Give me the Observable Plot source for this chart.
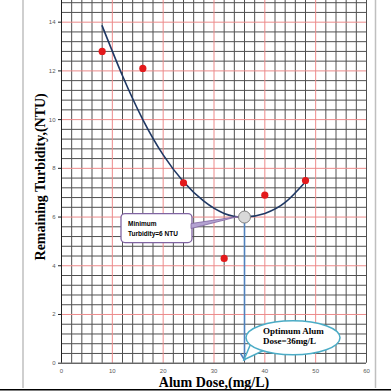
<!DOCTYPE html>
<html><head><meta charset="utf-8">
<script src="https://cdn.jsdelivr.net/npm/d3@7"></script>
<script src="https://cdn.jsdelivr.net/npm/@observablehq/plot@0.6"></script>
<style>body{margin:0;background:#fff}#chart svg{display:block}</style>
</head><body><div id="chart"></div>
<script>
// measured data points
const doses = [8, 16, 24, 32, 40, 48];
const turbidity = [12.8, 12.1, 7.4, 4.3, 6.9, 7.5];
// trend curve
const fitDoses = [8, 12, 16, 20, 24, 28, 32, 36, 40, 44, 48];
const fitTurbidity = [13.85, 11.8, 10.0, 8.55, 7.45, 6.65, 6.15, 6.0, 6.15, 6.6, 7.45];
// optimum
const optimumDose = [36];
const minTurbidity = [6];
// ticks and grid
const xTicks = [0, 10, 20, 30, 40, 50, 60];
const yTicks = [0, 2, 4, 6, 8, 10, 12, 14];
const xMajor = [10, 20, 30, 40, 50];
const xMinor = [2,4,6,8,12,14,16,18,22,24,26,28,32,34,36,38,42,44,46,48,52,54,56,58,60];
const yMajor = [2, 4, 6, 8, 10, 12, 14];
const yMinor = [0.4,0.8,1.2,1.6,2.4,2.8,3.2,3.6,4.4,4.8,5.2,5.6,6.4,6.8,7.2,7.6,8.4,8.8,9.2,9.6,10.4,10.8,11.2,11.6,12.4,12.8,13.2,13.6,14.4,14.8];

const points = doses.map((d, i) => ({dose: d, turb: turbidity[i]}));
const fit = fitDoses.map((d, i) => ({dose: d, turb: fitTurbidity[i]}));
const opt = [{dose: optimumDose[0], turb: minTurbidity[0]}];

const serif = "'Liberation Serif', 'Times New Roman', serif";
const sans = "'Liberation Sans', Arial, sans-serif";

const plot = Plot.plot({
  width: 391, height: 391,
  marginLeft: 61, marginRight: 25, marginTop: 0, marginBottom: 28.3,
  style: {fontFamily: sans, fontSize: "6px", color: "#595959", background: "#fff"},
  x: {domain: [0, 60]},
  y: {domain: [0, 14.89]},
  marks: [
    Plot.ruleX(xMinor, {stroke: "#505050", strokeWidth: 1}),
    Plot.ruleY(yMinor, {stroke: "#505050", strokeWidth: 1}),
    Plot.ruleX(xMajor, {stroke: "#ec8a8a", strokeWidth: 1}),
    Plot.ruleY(yMajor, {stroke: "#ec8a8a", strokeWidth: 1}),
    Plot.ruleX([0], {stroke: "#222", strokeWidth: 1}),
    Plot.ruleY([0], {stroke: "#222", strokeWidth: 1}),
    Plot.axisX({ticks: xTicks, tickSize: 0, tickPadding: 6, label: null, fill: "#595959"}),
    Plot.axisY({ticks: yTicks, tickSize: 3, tickPadding: 3, label: null, fill: "#595959", stroke: "#222"}),
    Plot.line(fit, {x: "dose", y: "turb", curve: "natural", stroke: "#1f3864", strokeWidth: 1.6}),
    Plot.dot(points, {x: "dose", y: "turb", r: 3.6, fill: "#e31a1c", stroke: "none"}),
    Plot.arrow(opt, {x1: "dose", y1: "turb", x2: "dose", y2: () => 0, stroke: "#4f81bd", strokeWidth: 1.6, headLength: 7, insetStart: 6, insetEnd: 3, bend: 0}),
    Plot.dot(opt, {x: "dose", y: "turb", r: 6, fill: "#d9d9d9", stroke: "#7f7f7f", strokeWidth: 1}),
    Plot.text(["Alum Dose,(mg/L)"], {frameAnchor: "bottom", lineAnchor: "middle", textAnchor: "middle", dy: 19, fontSize: 14, fontWeight: "bold", fontFamily: serif, fill: "#000"}),
    Plot.text(["Remaining Turbidity,(NTU)"], {frameAnchor: "left", lineAnchor: "middle", textAnchor: "middle", dx: -21, dy: -5, rotate: -90, fontSize: 14, fontWeight: "bold", fontFamily: serif, fill: "#000"})
  ]
});

document.getElementById("chart").appendChild(plot);

// annotations positioned from the scales
const svg = d3.select(plot.tagName.toLowerCase() === "svg" ? plot : plot.querySelector("svg"));
const sx = plot.scale("x"), sy = plot.scale("y");
const ax = sx.apply(optimumDose[0]), ay = sy.apply(minTurbidity[0]);
const by = sy.apply(0);
const g = svg.append("g").attr("text-anchor", "start");

// Minimum callout (rounded box with pointer)
g.append("rect").attr("x", ax - 123).attr("y", ay - 3).attr("width", 71).attr("height", 29)
  .attr("rx", 4).style("fill", "#ffffff").style("stroke", "#8064a2").style("stroke-width", "1.3px");
g.append("polygon").attr("points", `${ax-53},${ay+7} ${ax-6},${ay} ${ax-53},${ay+12}`)
  .style("fill", "#b3a2d1").style("stroke", "#8064a2").style("stroke-width", "0.8px");
g.append("text").attr("x", ax - 116).attr("y", ay + 9).text("Minimum")
  .style("font-family", sans).style("font-size", "6.5px").style("font-weight", "bold").style("fill", "#000").style("text-anchor", "start");
g.append("text").attr("x", ax - 116).attr("y", ay + 19).text("Turbidity=6 NTU")
  .style("font-family", sans).style("font-size", "6.5px").style("font-weight", "bold").style("fill", "#000").style("text-anchor", "start");

// Optimum callout (ellipse with tail)
g.append("polygon").attr("points", `${ax+8},${by-22} ${ax},${by-3} ${ax+19},${by-12}`)
  .style("fill", "#ffffff").style("stroke", "#4bacc6").style("stroke-width", "1.5px");
g.append("ellipse").attr("cx", ax + 49).attr("cy", by - 25).attr("rx", 47).attr("ry", 17)
  .style("fill", "#ffffff").style("stroke", "#4bacc6").style("stroke-width", "1.5px");
g.append("text").attr("x", ax + 19).attr("y", by - 29).text("Optimum Alum")
  .style("font-family", serif).style("font-size", "9px").style("font-weight", "bold").style("fill", "#000").style("text-anchor", "start");
g.append("text").attr("x", ax + 19).attr("y", by - 19).text("Dose=36mg/L")
  .style("font-family", serif).style("font-size", "9px").style("font-weight", "bold").style("fill", "#000").style("text-anchor", "start");

// chart frame remnants
svg.append("line").attr("x1", 23).attr("x2", 23).attr("y1", 0).attr("y2", 388).style("stroke", "#bfbfbf").style("stroke-width", "1.5px");
svg.append("line").attr("x1", 375.5).attr("x2", 375.5).attr("y1", 0).attr("y2", 388).style("stroke", "#bfbfbf").style("stroke-width", "1.5px");
svg.append("line").attr("x1", 0).attr("x2", 391).attr("y1", 389.8).attr("y2", 389.8).style("stroke", "#000").style("stroke-width", "1.6px");
</script>
</body></html>
